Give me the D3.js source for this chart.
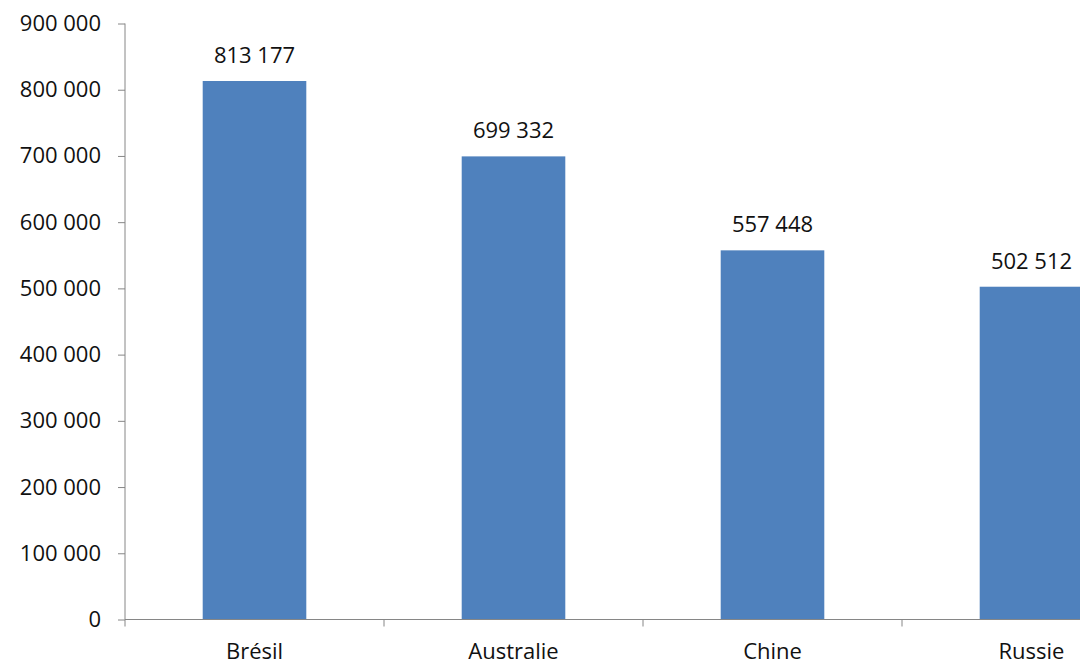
<!DOCTYPE html>
<html><head><meta charset="utf-8">
<script src="https://cdn.jsdelivr.net/npm/d3@7"></script>
<style>body{margin:0;background:#fff}svg{display:block}</style>
</head><body><svg id="c" width="1080" height="664"></svg>
<script>
const categories = ["Brésil", "Australie", "Chine", "Russie"];
const values = [813177, 699332, 557448, 502512];
const yTicks = [0, 100000, 200000, 300000, 400000, 500000, 600000, 700000, 800000, 900000];

(function () {
const svg = d3.select("#c");
const font = "'Open Sans', sans-serif";
const fs = 22;
const mLeft = 125, mTop = 23.5, mBottom = 619.5, step = 259;
const x = d3.scaleBand().domain(categories).range([mLeft, mLeft + step * categories.length]).paddingInner(0.6).paddingOuter(0.3);
const y = d3.scaleLinear().domain([0, 900000]).range([mBottom, mTop]);
const fmt = d3.formatLocale({decimal: ",", thousands: " ", grouping: [3], currency: ["", "€"]}).format(",d");

// bars
svg.append("g").selectAll("rect").data(values).join("rect")
  .attr("x", (d, i) => x(categories[i]))
  .attr("y", d => y(d))
  .attr("width", x.bandwidth())
  .attr("height", d => mBottom - y(d))
  .attr("fill", "#4f81bd");

// y axis
const ya = svg.append("g").attr("transform", `translate(${mLeft},0)`)
  .call(d3.axisLeft(y).tickValues(yTicks).tickSize(7).tickPadding(17).tickFormat(d => fmt(d)));
ya.select(".domain").attr("stroke", "#868686").attr("d", `M0,${mTop}V${mBottom}`);
ya.selectAll(".tick line").attr("stroke", "#868686");
ya.selectAll("text").attr("font-family", font).attr("font-size", fs).attr("fill", "#111");

// x axis
const xa = svg.append("g").attr("transform", `translate(0,${mBottom})`);
xa.append("line").attr("x1", mLeft).attr("x2", 1080).attr("stroke", "#868686");
const bounds = d3.range(categories.length + 1).map(i => mLeft + i * step);
xa.selectAll("line.tk").data(bounds).join("line").attr("class", "tk")
  .attr("x1", d => d).attr("x2", d => d).attr("y1", 0).attr("y2", 7).attr("stroke", "#868686");
xa.selectAll("text").data(categories).join("text")
  .attr("x", d => x(d) + x.bandwidth() / 2).attr("y", 39.5)
  .attr("text-anchor", "middle").attr("font-family", font).attr("font-size", fs).attr("fill", "#111")
  .text(d => d);

// value labels
svg.append("g").selectAll("text").data(values).join("text")
  .attr("x", (d, i) => x(categories[i]) + x.bandwidth() / 2)
  .attr("y", d => y(d) - 18)
  .attr("text-anchor", "middle").attr("font-family", font).attr("font-size", fs).attr("fill", "#111")
  .text(d => fmt(d));
})();
</script></body></html>
